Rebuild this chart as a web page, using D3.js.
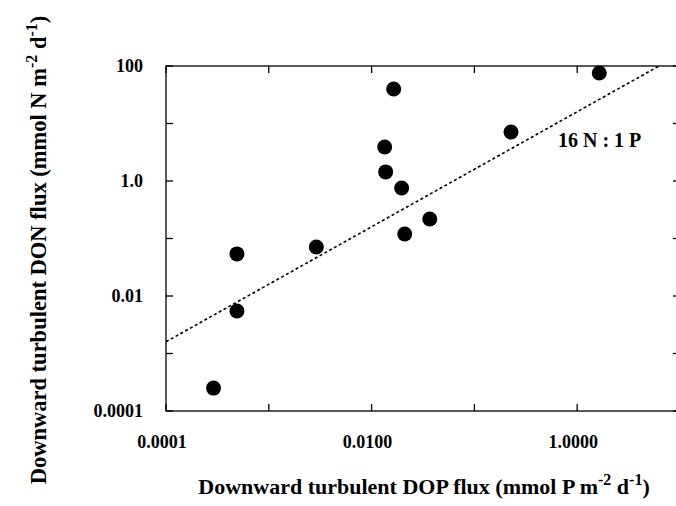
<!DOCTYPE html>
<html>
<head>
<meta charset="utf-8">
<script src="https://cdn.jsdelivr.net/npm/d3@7"></script>
<style>
  body { margin: 0; background: #fff; }
  svg text { font-family: "Liberation Serif", "DejaVu Serif", serif; font-weight: bold; fill: #000; }
</style>
</head>
<body>
<svg width="676" height="506"></svg>
<script>
// DOP flux (x) and DON flux (y), mmol m-2 d-1
var dopFlux = [0.00029, 0.00049, 0.00049, 0.0029, 0.0164, 0.0134, 0.0137, 0.0196, 0.0368, 0.021, 0.227, 1.64];
var donFlux = [0.00025, 0.0055, 0.054, 0.071, 39.8, 3.9, 1.44, 0.755, 0.218, 0.12, 7.1, 75.5];
var xTickLabels = ["0.0001", "0.0100", "1.0000"];
var yTickLabels = ["0.0001", "0.01", "1.0", "100"];
var ratioN = 16; // 16 N : 1 P

var svg = d3.select("svg");
var mLeft = 166, mRight = 680, mTop = 66, mBottom = 411;

var x = d3.scaleLog().domain([1e-4, 10]).range([mLeft, mRight]);
var y = d3.scaleLog().domain([1e-4, 100]).range([mBottom, mTop]);

var xDecades = [1e-4, 1e-3, 1e-2, 1e-1, 1, 10];
var yDecades = [1e-4, 1e-3, 1e-2, 1e-1, 1, 10, 100];

// frame with inward ticks
var axisG = svg.append("g").attr("stroke", "#000").attr("stroke-width", 1.3);
axisG.append("rect").attr("x", mLeft).attr("y", mTop)
  .attr("width", mRight - mLeft).attr("height", mBottom - mTop).attr("fill", "none");

xDecades.forEach(function(v) {
  axisG.append("line").attr("x1", x(v)).attr("x2", x(v)).attr("y1", mBottom).attr("y2", mBottom - 7);
  axisG.append("line").attr("x1", x(v)).attr("x2", x(v)).attr("y1", mTop).attr("y2", mTop + 7);
});
yDecades.forEach(function(v) {
  axisG.append("line").attr("x1", mLeft).attr("x2", mLeft + 7).attr("y1", y(v)).attr("y2", y(v));
  axisG.append("line").attr("x1", mRight).attr("x2", mRight - 7).attr("y1", y(v)).attr("y2", y(v));
});

// tick labels
xTickLabels.forEach(function(t) {
  svg.append("text").attr("x", x(+t) - 4).attr("y", 448)
    .attr("text-anchor", "middle").attr("font-size", 18).text(t);
});
yTickLabels.forEach(function(t) {
  svg.append("text").attr("x", 143).attr("y", y(+t) + 6)
    .attr("text-anchor", "end").attr("font-size", 18).text(t);
});

// 16:1 line
var lineX = [1e-4, 100 / ratioN];
svg.append("line")
  .attr("x1", x(lineX[0])).attr("y1", y(lineX[0] * ratioN))
  .attr("x2", x(lineX[1])).attr("y2", y(lineX[1] * ratioN))
  .attr("stroke", "#000").attr("stroke-width", 1.6).attr("stroke-dasharray", "3,2.5");

svg.append("text").attr("x", 558).attr("y", 147).attr("font-size", 20).text("16 N : 1 P");

// points
svg.append("g").selectAll("circle")
  .data(dopFlux.map(function(d, i) { return [d, donFlux[i]]; }))
  .enter().append("circle")
  .attr("cx", function(d) { return x(d[0]); })
  .attr("cy", function(d) { return y(d[1]); })
  .attr("r", 7.5)
  .attr("fill", "#000");

// axis titles
var xt = svg.append("text").attr("x", 424).attr("y", 494).attr("text-anchor", "middle").attr("font-size", 22);
xt.append("tspan").text("Downward turbulent DOP flux (mmol P m");
xt.append("tspan").attr("dy", -9).attr("font-size", 16).text("-2");
xt.append("tspan").attr("dy", 9).text("  d");
xt.append("tspan").attr("dy", -9).attr("font-size", 16).text("-1");
xt.append("tspan").attr("dy", 9).text(")");

var yt = svg.append("text").attr("transform", "translate(46,250) rotate(-90)")
  .attr("text-anchor", "middle").attr("font-size", 22.5);
yt.append("tspan").text("Downward turbulent DON flux (mmol N m");
yt.append("tspan").attr("dy", -9).attr("font-size", 16).text("-2");
yt.append("tspan").attr("dy", 9).text("   d");
yt.append("tspan").attr("dy", -9).attr("font-size", 16).text("-1");
yt.append("tspan").attr("dy", 9).text(")");
</script>
</body>
</html>
